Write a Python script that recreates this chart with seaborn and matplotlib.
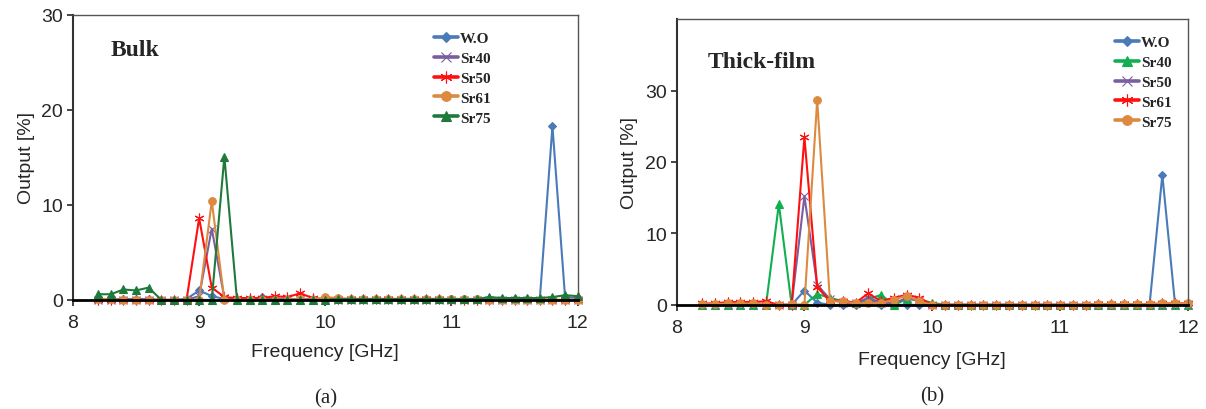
import numpy as np
import matplotlib.pyplot as plt
import seaborn as sns
import pandas as pd

freq = [8.2, 8.3, 8.4, 8.5, 8.6, 8.7, 8.8, 8.9, 9.0, 9.1,
        9.2, 9.3, 9.4, 9.5, 9.6, 9.7, 9.8, 9.9, 10.0, 10.1,
        10.2, 10.3, 10.4, 10.5, 10.6, 10.7, 10.8, 10.9, 11.0, 11.1,
        11.2, 11.3, 11.4, 11.5, 11.6, 11.7, 11.8, 11.9, 12.0]

# (a) Bulk
bulk_wo = [0.1, 0.1, 0.1, 0.1, 0.1, 0.0, 0.0, 0.1, 1.0, 0.4,
           0.1, 0.1, 0.1, 0.3, 0.1, 0.1, 0.1, 0.1, 0.1, 0.1,
           0.1, 0.1, 0.1, 0.1, 0.1, 0.1, 0.1, 0.1, 0.1, 0.1,
           0.1, 0.1, 0.1, 0.1, 0.1, 0.1, 18.3, 0.3, 0.2]
bulk_sr40 = [0.0, 0.0, 0.0, 0.0, 0.0, 0.0, 0.0, 0.0, 0.4, 7.5,
             0.2, 0.0, 0.0, 0.0, 0.0, 0.0, 0.0, 0.0, 0.0, 0.0,
             0.0, 0.0, 0.0, 0.0, 0.0, 0.0, 0.0, 0.0, 0.0, 0.0,
             0.0, 0.0, 0.0, 0.0, 0.0, 0.0, 0.0, 0.0, 0.0]
bulk_sr50 = [0.0, 0.0, 0.0, 0.0, 0.0, 0.0, 0.0, 0.0, 8.6, 1.3,
             0.3, 0.2, 0.2, 0.2, 0.4, 0.3, 0.7, 0.2, 0.1, 0.1,
             0.1, 0.1, 0.1, 0.1, 0.1, 0.1, 0.1, 0.1, 0.0, 0.0,
             0.0, 0.0, 0.0, 0.0, 0.0, 0.0, 0.0, 0.0, 0.0]
bulk_sr61 = [0.1, 0.1, 0.0, 0.0, 0.0, 0.0, 0.0, 0.0, 0.0, 10.4,
             0.0, 0.0, 0.0, 0.0, 0.0, 0.0, 0.1, 0.0, 0.3, 0.2,
             0.1, 0.1, 0.1, 0.1, 0.1, 0.1, 0.1, 0.1, 0.1, 0.1,
             0.1, 0.0, 0.0, 0.0, 0.0, 0.0, 0.0, 0.0, 0.0]
bulk_sr75 = [0.6, 0.6, 1.1, 1.0, 1.3, 0.0, 0.0, 0.0, 0.0, 0.0,
             15.1, 0.0, 0.0, 0.0, 0.0, 0.0, 0.0, 0.0, 0.0, 0.1,
             0.1, 0.1, 0.1, 0.1, 0.1, 0.1, 0.1, 0.1, 0.1, 0.1,
             0.1, 0.3, 0.2, 0.2, 0.2, 0.2, 0.3, 0.5, 0.4]

# (b) Thick-film
film_wo = [0.0, 0.0, 0.0, 0.0, 0.0, 0.0, 0.0, 0.0, 2.0, 0.3,
           0.0, 0.0, 0.0, 0.8, 0.0, 0.0, 0.0, 0.0, 0.0, 0.0,
           0.0, 0.0, 0.0, 0.0, 0.0, 0.0, 0.0, 0.0, 0.0, 0.0,
           0.0, 0.0, 0.0, 0.0, 0.0, 0.0, 18.2, 0.0, 0.0]
film_sr40 = [0.0, 0.0, 0.0, 0.0, 0.0, 0.0, 14.1, 0.0, 0.0, 1.5,
             1.0, 0.5, 0.3, 0.8, 1.4, 0.0, 0.8, 0.7, 0.3, 0.0,
             0.0, 0.0, 0.0, 0.0, 0.0, 0.0, 0.0, 0.0, 0.0, 0.0,
             0.0, 0.0, 0.0, 0.0, 0.0, 0.0, 0.0, 0.0, 0.0]
film_sr50 = [0.0, 0.0, 0.0, 0.0, 0.0, 0.0, 0.0, 0.0, 15.2, 2.8,
             0.8, 0.3, 0.2, 1.0, 0.3, 0.2, 1.0, 0.5, 0.0, 0.0,
             0.0, 0.0, 0.0, 0.0, 0.0, 0.0, 0.0, 0.0, 0.0, 0.0,
             0.0, 0.0, 0.0, 0.0, 0.0, 0.0, 0.0, 0.0, 0.0]
film_sr61 = [0.2, 0.2, 0.4, 0.4, 0.4, 0.5, 0.0, 0.0, 23.5, 2.5,
             0.5, 0.6, 0.3, 1.6, 0.5, 1.0, 1.4, 1.0, 0.0, 0.0,
             0.0, 0.0, 0.0, 0.0, 0.0, 0.0, 0.0, 0.0, 0.0, 0.0,
             0.0, 0.1, 0.1, 0.1, 0.1, 0.1, 0.2, 0.2, 0.2]
film_sr75 = [0.1, 0.1, 0.2, 0.2, 0.2, 0.0, 0.0, 0.1, 0.0, 28.7,
             0.5, 0.5, 0.2, 0.2, 0.3, 0.7, 1.3, 0.5, 0.0, 0.0,
             0.0, 0.0, 0.0, 0.0, 0.0, 0.0, 0.0, 0.0, 0.0, 0.0,
             0.0, 0.1, 0.1, 0.1, 0.1, 0.1, 0.2, 0.2, 0.2]

names = ["W.O", "Sr40", "Sr50", "Sr61", "Sr75"]

BLUE = "#4a7ab8"
PURPLE = "#7a5fa0"
RED = "#ff1010"
ORANGE = "#dd8a40"
GREEN_DARK = "#1e7a3a"
GREEN = "#10b050"

bulk_cols = [BLUE, PURPLE, RED, ORANGE, GREEN_DARK]
bulk_mk = ["D", "x", (6, 2, 0), "o", "^"]
film_cols = [BLUE, GREEN, PURPLE, RED, ORANGE]
film_mk = ["D", "^", "x", (6, 2, 0), "o"]

MSIZE = {"D": 4, "x": 6, "o": 5.5, "^": 6}

sns.set_style("white")
plt.rcParams["font.family"] = ["Liberation Sans", "DejaVu Sans"]

fig = plt.figure(figsize=(12.06, 4.10), dpi=100)
ax1 = fig.add_axes([0.0605, 0.266, 0.4185, 0.695])
ax2 = fig.add_axes([0.561, 0.254, 0.424, 0.697])


def draw(ax, series, cols, mks, ymax, title, tx, ty, label, ly, lx, xl_pad):
    for name, vals, c, m in zip(names, series, cols, mks):
        df = pd.DataFrame({"freq": freq, "out": vals})
        sns.lineplot(data=df, x="freq", y="out", color=c, marker=m,
                     markersize=MSIZE.get(m, 7), markeredgewidth=0.8,
                     markeredgecolor=c, linewidth=1.5, label=name, ax=ax,
                     clip_on=False)
    ax.set_xlim(8, 12)
    ax.set_ylim(0, ymax)
    ax.set_xticks([8, 9, 10, 11, 12])
    ax.set_yticks([0, 10, 20, 30])
    ax.tick_params(axis="both", labelsize=14, length=4, width=1.2,
                   direction="out", bottom=True, left=True)
    ax.tick_params(axis="x", pad=6)
    ax.tick_params(axis="y", pad=3)
    for s in ["top", "right"]:
        ax.spines[s].set_color("#555555")
        ax.spines[s].set_linewidth(1.0)
    ax.spines["left"].set_color("#333333")
    ax.spines["left"].set_linewidth(1.5)
    ax.spines["bottom"].set_color("black")
    ax.spines["bottom"].set_linewidth(2.0)
    ax.set_xlabel("Frequency [GHz]", fontsize=14, labelpad=xl_pad)
    ax.set_ylabel("Output [%]", fontsize=14, labelpad=5)
    ax.text(tx, ty, title, transform=ax.transAxes, fontsize=17,
            fontweight="bold", family="Liberation Serif", va="center")
    leg = ax.legend(loc="upper right", bbox_to_anchor=(lx, 0.99), frameon=False,
                    handlelength=1.6, handletextpad=0.1, labelspacing=0.4,
                    prop={"family": "Liberation Serif", "weight": "bold", "size": 11})
    for h in leg.get_lines():
        h.set_linewidth(2.6)
        h.set_markersize(h.get_markersize() + 1.5)
    ax.text(0.5, ly, label, transform=ax.transAxes, ha="center",
            va="center", fontsize=15, family="Liberation Serif")


draw(ax1, [bulk_wo, bulk_sr40, bulk_sr50, bulk_sr61, bulk_sr75],
     bulk_cols, bulk_mk, 30, "Bulk", 0.075, 0.88, "(a)", -0.345, 0.855, 9)
draw(ax2, [film_wo, film_sr40, film_sr50, film_sr61, film_sr75],
     film_cols, film_mk, 40, "Thick-film", 0.06, 0.85, "(b)", -0.32, 0.995, 11)

fig.savefig("out.png", dpi=100)
